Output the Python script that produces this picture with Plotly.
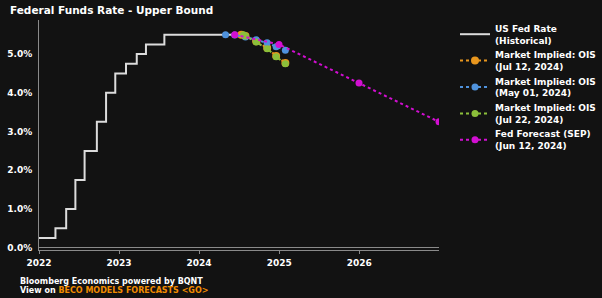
import plotly.graph_objects as go

# ---- data ----
hist_dates = ["2022-01-01", "2022-03-17", "2022-05-05", "2022-06-16", "2022-07-28",
              "2022-09-22", "2022-11-03", "2022-12-15", "2023-02-02", "2023-03-23",
              "2023-05-04", "2023-07-27", "2024-07-22"]
hist_vals = [0.25, 0.50, 1.00, 1.75, 2.50, 3.25, 4.00, 4.50, 4.75, 5.00, 5.25, 5.50, 5.50]

ois_jul12_dates = ["2024-07-12", "2024-07-31", "2024-09-18", "2024-11-07", "2024-12-18", "2025-01-29"]
ois_jul12_vals = [5.50, 5.47, 5.33, 5.16, 4.95, 4.77]

ois_may01_dates = ["2024-05-01", "2024-06-12", "2024-07-31", "2024-09-18", "2024-11-07", "2024-12-18", "2025-01-29"]
ois_may01_vals = [5.50, 5.49, 5.44, 5.37, 5.29, 5.19, 5.10]

ois_jul22_dates = ["2024-07-22", "2024-07-31", "2024-09-18", "2024-11-07", "2024-12-18", "2025-01-29"]
ois_jul22_vals = [5.50, 5.47, 5.31, 5.14, 4.93, 4.75]

sep_dates = ["2024-06-12", "2024-12-31", "2025-12-31", "2026-12-31"]
sep_vals = [5.50, 5.25, 4.25, 3.25]

year_ticks = ["2022-01-01", "2023-01-01", "2024-01-01", "2025-01-01", "2026-01-01"]
year_labels = ["2022", "2023", "2024", "2025", "2026"]
y_ticks = [0, 1, 2, 3, 4, 5]
y_labels = ["0.0%", "1.0%", "2.0%", "3.0%", "4.0%", "5.0%"]

BG = "#121212"
FONT = "DejaVu Sans"

fig = go.Figure()
fig.add_trace(go.Scatter(x=hist_dates, y=hist_vals, mode="lines", line_shape="hv",
                         line=dict(color="#dcdcdc", width=2),
                         name="US Fed Rate<br>(Historical)"))
fig.add_trace(go.Scatter(x=ois_jul12_dates, y=ois_jul12_vals, mode="lines+markers",
                         line=dict(color="#e8961e", width=2, dash="dot"),
                         marker=dict(color="#e8961e", size=8),
                         name="Market Implied: OIS<br>(Jul 12, 2024)"))
fig.add_trace(go.Scatter(x=ois_may01_dates, y=ois_may01_vals, mode="lines+markers",
                         line=dict(color="#4f92dc", width=2, dash="dot"),
                         marker=dict(color="#4f92dc", size=7),
                         name="Market Implied: OIS<br>(May 01, 2024)"))
fig.add_trace(go.Scatter(x=ois_jul22_dates, y=ois_jul22_vals, mode="lines+markers",
                         line=dict(color="#8cbf3a", width=2, dash="dot"),
                         marker=dict(color="#8cbf3a", size=7),
                         name="Market Implied: OIS<br>(Jul 22, 2024)"))
fig.add_trace(go.Scatter(x=sep_dates, y=sep_vals, mode="lines+markers",
                         line=dict(color="#d20fd2", width=2, dash="dot"),
                         marker=dict(color="#d20fd2", size=7),
                         name="Fed Forecast (SEP)<br>(Jun 12, 2024)", cliponaxis=True))

fig.update_layout(
    width=602, height=298,
    margin=dict(l=39, r=163, t=20, b=48, autoexpand=False),
    paper_bgcolor=BG, plot_bgcolor=BG,
    font=dict(family=FONT, color="white", size=9, weight="bold"),
    showlegend=True,
    legend=dict(xref="container", yref="container", x=455 / 602, y=1 - 16 / 298,
                xanchor="left", yanchor="top",
                font=dict(size=9, color="white", family=FONT, weight="bold"),
                bgcolor="rgba(0,0,0,0)", tracegroupgap=0, itemwidth=30),
    xaxis=dict(range=["2022-01-01", "2026-12-31"], tickvals=year_ticks, ticktext=year_labels,
               showgrid=False, showline=True, linecolor="#8a8a8a", linewidth=1,
               ticks="outside", ticklen=3, tickcolor="#8a8a8a", ticklabelstandoff=1,
               tickfont=dict(size=9, color="white", family=FONT, weight="bold"),
               zeroline=False, automargin=False),
    yaxis=dict(range=[-0.06, 5.88], tickvals=y_ticks, ticktext=y_labels,
               showgrid=False, showline=True, linecolor="#8a8a8a", linewidth=1,
               zeroline=True, zerolinecolor="#8a8a8a", zerolinewidth=1, automargin=False,
               ticks="", ticklabelstandoff=4,
               tickfont=dict(size=9, color="white", family=FONT, weight="bold")),
)

fig.add_annotation(text="Federal Funds Rate - Upper Bound", xref="paper", yref="paper",
                   x=-0.0775, y=1.0435, xanchor="left", yanchor="middle", showarrow=False,
                   font=dict(size=10.5, color="white", family=FONT, weight="bold"))
fig.add_annotation(text="Bloomberg Economics powered by BQNT", xref="paper", yref="paper",
                   x=-0.0525, y=-0.135, xanchor="left", yanchor="middle", showarrow=False,
                   font=dict(size=8, color="white", family=FONT, weight="bold"))
fig.add_annotation(text="View on <span style='color:#f28c00'>BECO MODELS FORECASTS &lt;GO&gt;</span>",
                   xref="paper", yref="paper",
                   x=-0.0525, y=-0.178, xanchor="left", yanchor="middle", showarrow=False,
                   font=dict(size=8, color="white", family=FONT, weight="bold"))

fig.write_html("out.html")
